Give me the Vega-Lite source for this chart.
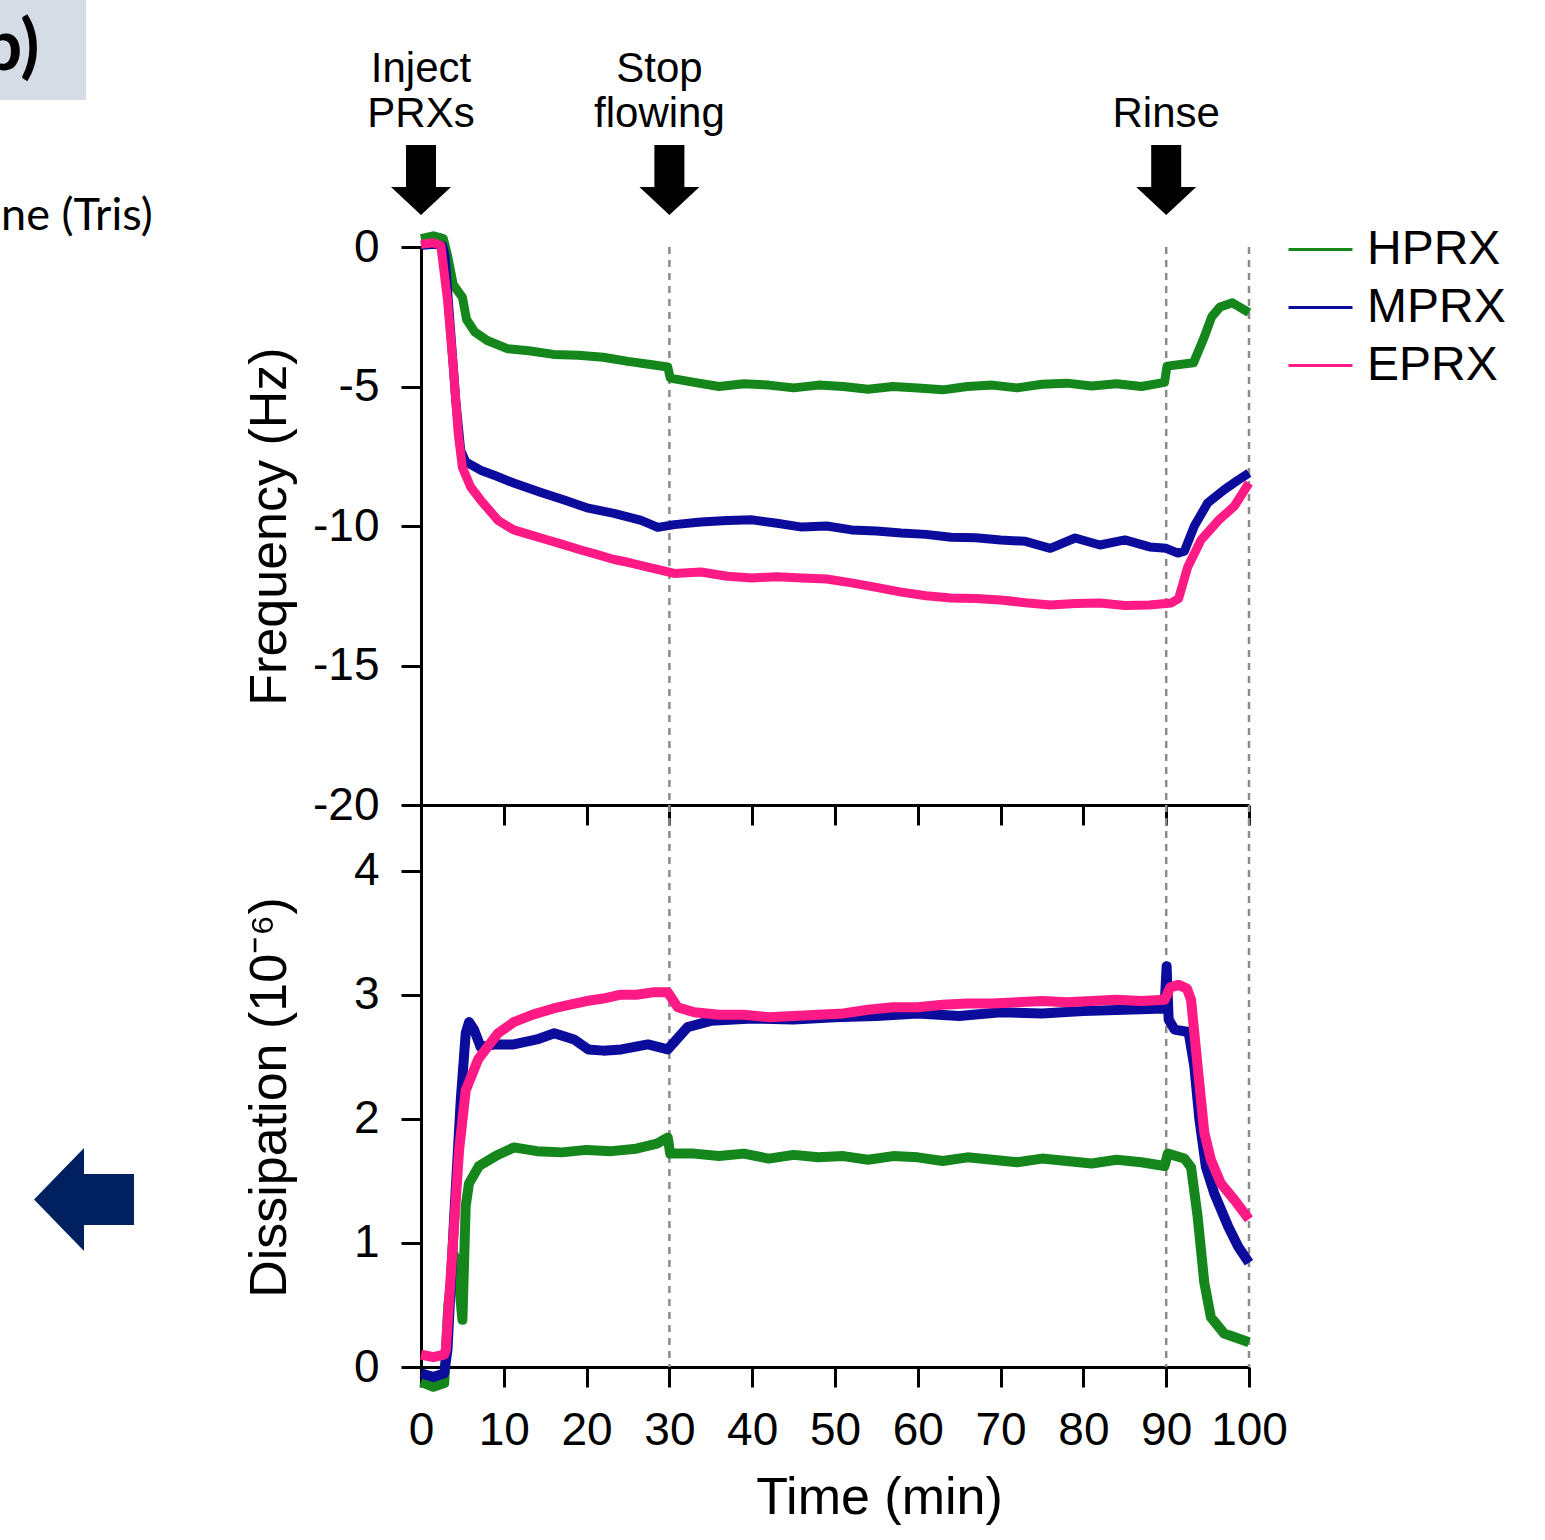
{
  "$schema": "https://vega.github.io/schema/vega-lite/v6.json",
  "background": "white",
  "padding": {"left": -40, "top": 0, "right": 10, "bottom": 10},
  "bounds": "flush",
  "spacing": 0,
  "resolve": {"legend": {"color": "independent"}},
  "config": {
    "font": "Liberation Sans",
    "view": {"stroke": null},
    "axis": {"domainColor": "black", "domainWidth": 3, "tickColor": "black", "tickWidth": 3, "tickSize": 20, "labelFontSize": 46, "labelColor": "black", "labelFont": "Liberation Sans", "titleFont": "Liberation Sans", "titleFontSize": 52, "titleFontWeight": "normal", "titleColor": "black", "grid": false, "labelFlush": false, "labelOverlap": false, "labelBound": false}
  },
  "datasets": {
    "vlines": [{"t": 30}, {"t": 90}, {"t": 100}],
    "events": [{"t": 0, "a": "Inject", "b": "PRXs"}, {"t": 30, "a": "Stop", "b": "flowing"}, {"t": 90, "a": "", "b": "Rinse"}],
    "freq": [
      {"s":"HPRX","t":0,"v":0.3},{"s":"HPRX","t":1.5,"v":0.4},{"s":"HPRX","t":2.7,"v":0.3},{"s":"HPRX","t":3.2,"v":-0.3},{"s":"HPRX","t":3.9,"v":-1.35},{"s":"HPRX","t":4.5,"v":-1.6},{"s":"HPRX","t":5.0,"v":-1.8},{"s":"HPRX","t":5.5,"v":-2.6},{"s":"HPRX","t":6.5,"v":-3.05},{"s":"HPRX","t":8,"v":-3.35},{"s":"HPRX","t":10.5,"v":-3.65},{"s":"HPRX","t":13,"v":-3.72},{"s":"HPRX","t":16,"v":-3.85},{"s":"HPRX","t":19,"v":-3.88},{"s":"HPRX","t":22,"v":-3.95},{"s":"HPRX","t":25,"v":-4.1},{"s":"HPRX","t":27.5,"v":-4.2},{"s":"HPRX","t":29.8,"v":-4.3},{"s":"HPRX","t":30.1,"v":-4.7},{"s":"HPRX","t":33,"v":-4.85},{"s":"HPRX","t":36,"v":-5.0},{"s":"HPRX","t":39,"v":-4.9},{"s":"HPRX","t":42,"v":-4.95},{"s":"HPRX","t":45,"v":-5.05},{"s":"HPRX","t":48,"v":-4.95},{"s":"HPRX","t":51,"v":-5.0},{"s":"HPRX","t":54,"v":-5.1},{"s":"HPRX","t":57,"v":-5.0},{"s":"HPRX","t":60,"v":-5.05},{"s":"HPRX","t":63,"v":-5.12},{"s":"HPRX","t":66,"v":-5.0},{"s":"HPRX","t":69,"v":-4.95},{"s":"HPRX","t":72,"v":-5.05},{"s":"HPRX","t":75,"v":-4.92},{"s":"HPRX","t":78,"v":-4.88},{"s":"HPRX","t":81,"v":-4.98},{"s":"HPRX","t":84,"v":-4.9},{"s":"HPRX","t":87,"v":-5.0},{"s":"HPRX","t":89.8,"v":-4.85},{"s":"HPRX","t":90.1,"v":-4.27},{"s":"HPRX","t":93.3,"v":-4.15},{"s":"HPRX","t":94.5,"v":-3.3},{"s":"HPRX","t":95.5,"v":-2.5},{"s":"HPRX","t":96.5,"v":-2.15},{"s":"HPRX","t":98,"v":-2.0},{"s":"HPRX","t":100,"v":-2.35},
      {"s":"MPRX","t":0,"v":0.05},{"s":"MPRX","t":1.5,"v":0.1},{"s":"MPRX","t":2.6,"v":0.05},{"s":"MPRX","t":2.9,"v":-0.3},{"s":"MPRX","t":3.6,"v":-3.1},{"s":"MPRX","t":4.2,"v":-5.5},{"s":"MPRX","t":4.8,"v":-7.3},{"s":"MPRX","t":5.4,"v":-7.7},{"s":"MPRX","t":7.2,"v":-8.0},{"s":"MPRX","t":9,"v":-8.2},{"s":"MPRX","t":11.2,"v":-8.46},{"s":"MPRX","t":14.5,"v":-8.8},{"s":"MPRX","t":17.3,"v":-9.07},{"s":"MPRX","t":20.2,"v":-9.36},{"s":"MPRX","t":23.3,"v":-9.55},{"s":"MPRX","t":26.6,"v":-9.8},{"s":"MPRX","t":28.6,"v":-10.05},{"s":"MPRX","t":30.6,"v":-9.95},{"s":"MPRX","t":33.8,"v":-9.86},{"s":"MPRX","t":37,"v":-9.8},{"s":"MPRX","t":40,"v":-9.78},{"s":"MPRX","t":43,"v":-9.9},{"s":"MPRX","t":46,"v":-10.04},{"s":"MPRX","t":49,"v":-10.0},{"s":"MPRX","t":52,"v":-10.14},{"s":"MPRX","t":55,"v":-10.18},{"s":"MPRX","t":58,"v":-10.25},{"s":"MPRX","t":61,"v":-10.3},{"s":"MPRX","t":64,"v":-10.4},{"s":"MPRX","t":67,"v":-10.42},{"s":"MPRX","t":70,"v":-10.5},{"s":"MPRX","t":73,"v":-10.55},{"s":"MPRX","t":76,"v":-10.8},{"s":"MPRX","t":79,"v":-10.43},{"s":"MPRX","t":82,"v":-10.68},{"s":"MPRX","t":85,"v":-10.5},{"s":"MPRX","t":88,"v":-10.75},{"s":"MPRX","t":90,"v":-10.8},{"s":"MPRX","t":91.4,"v":-10.97},{"s":"MPRX","t":92.2,"v":-10.9},{"s":"MPRX","t":93.4,"v":-10.0},{"s":"MPRX","t":95,"v":-9.18},{"s":"MPRX","t":97,"v":-8.7},{"s":"MPRX","t":98.7,"v":-8.35},{"s":"MPRX","t":100,"v":-8.1},
      {"s":"EPRX","t":0,"v":0.1},{"s":"EPRX","t":1.5,"v":0.15},{"s":"EPRX","t":2.4,"v":0.05},{"s":"EPRX","t":3.2,"v":-1.9},{"s":"EPRX","t":3.9,"v":-4.3},{"s":"EPRX","t":4.5,"v":-6.7},{"s":"EPRX","t":5.0,"v":-7.9},{"s":"EPRX","t":6.0,"v":-8.6},{"s":"EPRX","t":7.2,"v":-9.07},{"s":"EPRX","t":9.3,"v":-9.8},{"s":"EPRX","t":11.2,"v":-10.14},{"s":"EPRX","t":13,"v":-10.3},{"s":"EPRX","t":15.3,"v":-10.5},{"s":"EPRX","t":17,"v":-10.65},{"s":"EPRX","t":19.3,"v":-10.86},{"s":"EPRX","t":21,"v":-11.0},{"s":"EPRX","t":23.3,"v":-11.2},{"s":"EPRX","t":25,"v":-11.3},{"s":"EPRX","t":27.4,"v":-11.47},{"s":"EPRX","t":30.6,"v":-11.7},{"s":"EPRX","t":33.8,"v":-11.65},{"s":"EPRX","t":37,"v":-11.8},{"s":"EPRX","t":40,"v":-11.86},{"s":"EPRX","t":43,"v":-11.82},{"s":"EPRX","t":46,"v":-11.86},{"s":"EPRX","t":49,"v":-11.9},{"s":"EPRX","t":52,"v":-12.04},{"s":"EPRX","t":55,"v":-12.2},{"s":"EPRX","t":58,"v":-12.37},{"s":"EPRX","t":61,"v":-12.5},{"s":"EPRX","t":64,"v":-12.58},{"s":"EPRX","t":67,"v":-12.6},{"s":"EPRX","t":70,"v":-12.65},{"s":"EPRX","t":73,"v":-12.75},{"s":"EPRX","t":76,"v":-12.83},{"s":"EPRX","t":79,"v":-12.78},{"s":"EPRX","t":82,"v":-12.76},{"s":"EPRX","t":85,"v":-12.85},{"s":"EPRX","t":88,"v":-12.83},{"s":"EPRX","t":90.6,"v":-12.76},{"s":"EPRX","t":91.5,"v":-12.6},{"s":"EPRX","t":92.6,"v":-11.47},{"s":"EPRX","t":94.2,"v":-10.5},{"s":"EPRX","t":96.3,"v":-9.8},{"s":"EPRX","t":98.2,"v":-9.3},{"s":"EPRX","t":100,"v":-8.46}
    ],
    "diss": [
      {"s":"HPRX","t":0,"v":-0.12},{"s":"HPRX","t":1.5,"v":-0.16},{"s":"HPRX","t":2.8,"v":-0.13},{"s":"HPRX","t":3.3,"v":0.5},{"s":"HPRX","t":4.0,"v":0.9},{"s":"HPRX","t":4.5,"v":0.75},{"s":"HPRX","t":5.0,"v":0.38},{"s":"HPRX","t":5.4,"v":1.3},{"s":"HPRX","t":5.8,"v":1.48},{"s":"HPRX","t":7,"v":1.62},{"s":"HPRX","t":9,"v":1.7},{"s":"HPRX","t":11.2,"v":1.77},{"s":"HPRX","t":14,"v":1.74},{"s":"HPRX","t":17,"v":1.73},{"s":"HPRX","t":20,"v":1.75},{"s":"HPRX","t":23,"v":1.74},{"s":"HPRX","t":26,"v":1.76},{"s":"HPRX","t":28.5,"v":1.8},{"s":"HPRX","t":29.8,"v":1.85},{"s":"HPRX","t":30.1,"v":1.72},{"s":"HPRX","t":33,"v":1.72},{"s":"HPRX","t":36,"v":1.7},{"s":"HPRX","t":39,"v":1.72},{"s":"HPRX","t":42,"v":1.68},{"s":"HPRX","t":45,"v":1.71},{"s":"HPRX","t":48,"v":1.69},{"s":"HPRX","t":51,"v":1.7},{"s":"HPRX","t":54,"v":1.67},{"s":"HPRX","t":57,"v":1.7},{"s":"HPRX","t":60,"v":1.69},{"s":"HPRX","t":63,"v":1.66},{"s":"HPRX","t":66,"v":1.69},{"s":"HPRX","t":69,"v":1.67},{"s":"HPRX","t":72,"v":1.65},{"s":"HPRX","t":75,"v":1.68},{"s":"HPRX","t":78,"v":1.66},{"s":"HPRX","t":81,"v":1.64},{"s":"HPRX","t":84,"v":1.67},{"s":"HPRX","t":87,"v":1.65},{"s":"HPRX","t":89.8,"v":1.62},{"s":"HPRX","t":90.2,"v":1.72},{"s":"HPRX","t":92.2,"v":1.68},{"s":"HPRX","t":93,"v":1.61},{"s":"HPRX","t":93.8,"v":1.21},{"s":"HPRX","t":94.6,"v":0.68},{"s":"HPRX","t":95.4,"v":0.4},{"s":"HPRX","t":97,"v":0.27},{"s":"HPRX","t":100,"v":0.2},
      {"s":"MPRX","t":0,"v":-0.05},{"s":"MPRX","t":1.5,"v":-0.08},{"s":"MPRX","t":2.8,"v":-0.05},{"s":"MPRX","t":3.2,"v":0.14},{"s":"MPRX","t":4.0,"v":1.2},{"s":"MPRX","t":4.8,"v":2.15},{"s":"MPRX","t":5.4,"v":2.69},{"s":"MPRX","t":5.8,"v":2.78},{"s":"MPRX","t":6.4,"v":2.72},{"s":"MPRX","t":7.2,"v":2.58},{"s":"MPRX","t":9,"v":2.6},{"s":"MPRX","t":11.2,"v":2.6},{"s":"MPRX","t":14,"v":2.64},{"s":"MPRX","t":16.1,"v":2.69},{"s":"MPRX","t":18.5,"v":2.64},{"s":"MPRX","t":20.2,"v":2.56},{"s":"MPRX","t":22,"v":2.55},{"s":"MPRX","t":24.2,"v":2.56},{"s":"MPRX","t":27.4,"v":2.6},{"s":"MPRX","t":29.8,"v":2.56},{"s":"MPRX","t":32.2,"v":2.74},{"s":"MPRX","t":35,"v":2.79},{"s":"MPRX","t":40,"v":2.81},{"s":"MPRX","t":45,"v":2.8},{"s":"MPRX","t":50,"v":2.82},{"s":"MPRX","t":55,"v":2.83},{"s":"MPRX","t":60,"v":2.85},{"s":"MPRX","t":65,"v":2.83},{"s":"MPRX","t":70,"v":2.86},{"s":"MPRX","t":75,"v":2.85},{"s":"MPRX","t":80,"v":2.87},{"s":"MPRX","t":85,"v":2.88},{"s":"MPRX","t":89.8,"v":2.89},{"s":"MPRX","t":90.05,"v":3.23},{"s":"MPRX","t":90.3,"v":2.8},{"s":"MPRX","t":91,"v":2.72},{"s":"MPRX","t":92.7,"v":2.7},{"s":"MPRX","t":93.4,"v":2.42},{"s":"MPRX","t":94,"v":2.0},{"s":"MPRX","t":94.8,"v":1.61},{"s":"MPRX","t":95.8,"v":1.4},{"s":"MPRX","t":97.5,"v":1.13},{"s":"MPRX","t":98.7,"v":0.97},{"s":"MPRX","t":100,"v":0.84},
      {"s":"EPRX","t":0,"v":0.1},{"s":"EPRX","t":1.5,"v":0.08},{"s":"EPRX","t":2.8,"v":0.1},{"s":"EPRX","t":3.0,"v":0.14},{"s":"EPRX","t":3.8,"v":0.94},{"s":"EPRX","t":4.6,"v":1.75},{"s":"EPRX","t":5.4,"v":2.23},{"s":"EPRX","t":6.9,"v":2.48},{"s":"EPRX","t":9.3,"v":2.69},{"s":"EPRX","t":11.2,"v":2.78},{"s":"EPRX","t":13.5,"v":2.84},{"s":"EPRX","t":16,"v":2.89},{"s":"EPRX","t":18,"v":2.92},{"s":"EPRX","t":20,"v":2.95},{"s":"EPRX","t":22,"v":2.97},{"s":"EPRX","t":24,"v":3.0},{"s":"EPRX","t":26,"v":3.0},{"s":"EPRX","t":28,"v":3.02},{"s":"EPRX","t":29.8,"v":3.02},{"s":"EPRX","t":31,"v":2.9},{"s":"EPRX","t":33,"v":2.86},{"s":"EPRX","t":36,"v":2.84},{"s":"EPRX","t":39,"v":2.84},{"s":"EPRX","t":42,"v":2.82},{"s":"EPRX","t":45,"v":2.83},{"s":"EPRX","t":48,"v":2.84},{"s":"EPRX","t":51,"v":2.85},{"s":"EPRX","t":54,"v":2.88},{"s":"EPRX","t":57,"v":2.9},{"s":"EPRX","t":60,"v":2.9},{"s":"EPRX","t":63,"v":2.92},{"s":"EPRX","t":66,"v":2.93},{"s":"EPRX","t":69,"v":2.93},{"s":"EPRX","t":72,"v":2.94},{"s":"EPRX","t":75,"v":2.95},{"s":"EPRX","t":78,"v":2.94},{"s":"EPRX","t":81,"v":2.95},{"s":"EPRX","t":84,"v":2.96},{"s":"EPRX","t":87,"v":2.95},{"s":"EPRX","t":89.8,"v":2.96},{"s":"EPRX","t":90.5,"v":3.06},{"s":"EPRX","t":91.5,"v":3.08},{"s":"EPRX","t":92.5,"v":3.05},{"s":"EPRX","t":93,"v":2.96},{"s":"EPRX","t":93.8,"v":2.42},{"s":"EPRX","t":94.6,"v":1.89},{"s":"EPRX","t":95.4,"v":1.67},{"s":"EPRX","t":96.6,"v":1.48},{"s":"EPRX","t":98.2,"v":1.35},{"s":"EPRX","t":100,"v":1.19}
    ]
  },
  "vconcat": [
    {
      "width": 828,
      "height": 558,
      "layer": [
        {
          "data": {"name": "vlines"},
          "mark": {"type": "rule", "color": "#8c8c8c", "strokeWidth": 2.5, "strokeDash": [7, 6]},
          "encoding": {
            "x": {"field": "t", "type": "quantitative", "scale": {"domain": [0, 100], "nice": false},
                  "axis": {"values": [0,10,20,30,40,50,60,70,80,90,100], "labels": false, "title": null}}
          }
        },
        {
          "data": {"name": "freq"},
          "mark": {"type": "line", "strokeWidth": 9, "strokeJoin": "round", "clip": false},
          "encoding": {
            "x": {"field": "t", "type": "quantitative",
                  "axis": {"values": [0,10,20,30,40,50,60,70,80,90,100], "labels": false, "title": null}},
            "y": {"field": "v", "type": "quantitative", "scale": {"domain": [-20, 0], "nice": false, "zero": false},
                  "axis": {"values": [0, -5, -10, -15, -20], "title": "Frequency (Hz)", "labelPadding": 22, "titlePadding": 16,
                           "labelExpr": "datum.value < 0 ? '-' + abs(datum.value) : '' + datum.value"}},
            "color": {"field": "s", "type": "nominal",
                      "scale": {"domain": ["HPRX", "MPRX", "EPRX"], "range": ["#14861c", "#0c0c9c", "#ff1a85"]},
                      "legend": {"orient": "none", "legendX": 866, "legendY": -31, "title": null, "symbolType": "stroke",
                                 "symbolSize": 4096, "symbolStrokeWidth": 3, "labelFontSize": 48, "labelFont": "Liberation Sans",
                                 "labelColor": "black", "labelOffset": 13, "rowPadding": -4, "padding": 0, "labelLimit": 0}}
          }
        },
        {
          "data": {"name": "events"},
          "mark": {"type": "point", "shape": "M -0.5 -1.167 L 0.5 -1.167 L 0.5 0.233 L 1 0.233 L 0 1.167 L -1 0.233 L -0.5 0.233 Z",
                   "filled": true, "color": "black", "opacity": 1, "size": 3600, "strokeWidth": 0, "clip": false},
          "encoding": {"x": {"field": "t", "type": "quantitative"}, "y": {"datum": 2.40}}
        },
        {
          "data": {"name": "events"},
          "transform": [{"filter": "datum.t !== 30"}],
          "mark": {"type": "text", "fontSize": 42, "align": "center", "baseline": "alphabetic", "color": "black"},
          "encoding": {"x": {"field": "t", "type": "quantitative"}, "y": {"datum": 5.91}, "text": {"field": "a"}}
        },
        {
          "data": {"name": "events"},
          "transform": [{"filter": "datum.t !== 30"}],
          "mark": {"type": "text", "fontSize": 42, "align": "center", "baseline": "alphabetic", "color": "black"},
          "encoding": {"x": {"field": "t", "type": "quantitative"}, "y": {"datum": 4.30}, "text": {"field": "b"}}
        },
        {
          "data": {"name": "events"},
          "transform": [{"filter": "datum.t === 30"}],
          "mark": {"type": "text", "fontSize": 42, "align": "center", "baseline": "alphabetic", "color": "black", "dx": -10},
          "encoding": {"x": {"field": "t", "type": "quantitative"}, "y": {"datum": 5.91}, "text": {"field": "a"}}
        },
        {
          "data": {"name": "events"},
          "transform": [{"filter": "datum.t === 30"}],
          "mark": {"type": "text", "fontSize": 42, "align": "center", "baseline": "alphabetic", "color": "black", "dx": -10},
          "encoding": {"x": {"field": "t", "type": "quantitative"}, "y": {"datum": 4.30}, "text": {"field": "b"}}
        },
        {
          "data": {"values": [{}]},
          "mark": {"type": "rect", "color": "#d6dce5", "clip": false},
          "encoding": {"x": {"datum": -55.56}, "x2": {"datum": -40.46}, "y": {"datum": 8.853}, "y2": {"datum": 5.269}}
        },
        {
          "data": {"values": [{}]},
          "mark": {"type": "text", "text": "b)", "font": "Lato", "fontWeight": "bold", "fontSize": 70, "align": "right", "baseline": "alphabetic", "color": "black"},
          "encoding": {"x": {"datum": -46.07}, "y": {"datum": 6.34}}
        },
        {
          "data": {"values": [{}]},
          "mark": {"type": "text", "text": "ne (Tris)", "font": "Lato", "fontSize": 45, "align": "left", "baseline": "alphabetic", "color": "black"},
          "encoding": {"x": {"datum": -50.72}, "y": {"datum": 0.61}}
        }
      ]
    },
    {
      "width": 828,
      "height": 562,
      "layer": [
        {
          "data": {"name": "vlines"},
          "mark": {"type": "rule", "color": "#8c8c8c", "strokeWidth": 2.5, "strokeDash": [7, 6]},
          "encoding": {
            "x": {"field": "t", "type": "quantitative", "scale": {"domain": [0, 100], "nice": false},
                  "axis": {"values": [0,10,20,30,40,50,60,70,80,90,100], "title": "Time (min)", "labelPadding": 21, "titlePadding": 19, "titleX": 458}}
          }
        },
        {
          "data": {"name": "diss"},
          "mark": {"type": "line", "strokeWidth": 10, "strokeJoin": "round", "clip": false},
          "encoding": {
            "x": {"field": "t", "type": "quantitative",
                  "axis": {"values": [0,10,20,30,40,50,60,70,80,90,100], "title": "Time (min)", "labelPadding": 21, "titlePadding": 19, "titleX": 458}},
            "y": {"field": "v", "type": "quantitative", "scale": {"domain": [0, 4.53], "nice": false, "zero": false},
                  "axis": {"values": [0, 1, 2, 3, 4], "format": "d", "title": "Dissipation (10⁻⁶)", "labelPadding": 22, "titlePadding": 57, "titleY": 292}},
            "color": {"field": "s", "type": "nominal",
                      "scale": {"domain": ["HPRX", "MPRX", "EPRX"], "range": ["#14861c", "#0c0c9c", "#ff1a85"]},
                      "legend": null}
          }
        },
        {
          "data": {"values": [{}]},
          "mark": {"type": "point", "shape": "M -1 0 L 0 -1.03 L 0 -0.51 L 1 -0.51 L 1 0.51 L 0 0.51 L 0 1.03 Z",
                   "filled": true, "color": "#002060", "opacity": 1, "size": 10000, "strokeWidth": 0, "clip": false},
          "encoding": {"x": {"datum": -40.70}, "y": {"datum": 1.351}}
        }
      ]
    }
  ]
}
